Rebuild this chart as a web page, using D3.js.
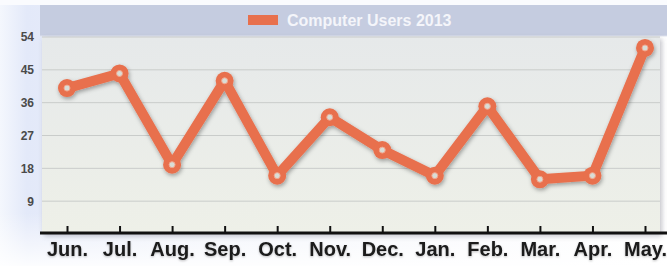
<!DOCTYPE html>
<html><head><meta charset="utf-8">
<script src="https://cdn.jsdelivr.net/npm/d3@7"></script>
<style>html,body{margin:0;padding:0;background:#fff;overflow:hidden}</style>
</head><body>
<script>
const categories = ["Jun.","Jul.","Aug.","Sep.","Oct.","Nov.","Dec.","Jan.","Feb.","Mar.","Apr.","May."];
const users2013 = [40,44,19,42,16,32,23,16,35,15,16,51];
const yTicks = [9,18,27,36,45,54];
const seriesName = "Computer Users 2013";

const W = 667, H = 266;
const svg = d3.select("body").append("svg").attr("width", W).attr("height", H);
const defs = svg.append("defs");

const bg = defs.append("linearGradient").attr("id","bg").attr("x1",0).attr("y1",0).attr("x2",1).attr("y2",0);
bg.append("stop").attr("offset","0%").attr("stop-color","#f4f7fd");
bg.append("stop").attr("offset","4%").attr("stop-color","#e3e9f9");
bg.append("stop").attr("offset","30%").attr("stop-color","#eef1fa");
bg.append("stop").attr("offset","100%").attr("stop-color","#ffffff");
const bgv = defs.append("linearGradient").attr("id","bgv").attr("x1",0).attr("y1",0).attr("x2",0).attr("y2",1);
bgv.append("stop").attr("offset","0%").attr("stop-color","#fff").attr("stop-opacity",0);
bgv.append("stop").attr("offset","80%").attr("stop-color","#fff").attr("stop-opacity",0);
bgv.append("stop").attr("offset","100%").attr("stop-color","#fff").attr("stop-opacity",0.9);

const plotG = defs.append("linearGradient").attr("id","plotbg").attr("x1",0).attr("y1",0).attr("x2",0).attr("y2",1);
plotG.append("stop").attr("offset","0%").attr("stop-color","#e6e9ea");
plotG.append("stop").attr("offset","100%").attr("stop-color","#eef0e8");

const sh = defs.append("filter").attr("id","shadow").attr("x","-10%").attr("y","-10%").attr("width","120%").attr("height","130%");
sh.append("feDropShadow").attr("dx",1).attr("dy",2).attr("stdDeviation",2).attr("flood-color","#000").attr("flood-opacity",0.35);
const bl = defs.append("filter").attr("id","blur");
bl.append("feGaussianBlur").attr("stdDeviation",0.6);
const ts = defs.append("filter").attr("id","tshadow").attr("x","-10%").attr("y","-30%").attr("width","120%").attr("height","160%");
ts.append("feDropShadow").attr("dx",0).attr("dy",1).attr("stdDeviation",1).attr("flood-color","#000").attr("flood-opacity",0.25);
const ps = defs.append("filter").attr("id","pshadow").attr("x","-5%").attr("y","-5%").attr("width","110%").attr("height","110%");
ps.append("feDropShadow").attr("dx",2).attr("dy",2).attr("stdDeviation",2.5).attr("flood-color","#556").attr("flood-opacity",0.35);

svg.append("rect").attr("x",0).attr("y",0).attr("width",W).attr("height",H).attr("fill","url(#bg)");
svg.append("rect").attr("x",0).attr("y",0).attr("width",W).attr("height",H).attr("fill","url(#bgv)");
svg.append("rect").attr("x",0).attr("y",0).attr("width",W).attr("height",5).attr("fill","#fafbfe");

const m = {left:42, right:660, top:37, bottom:234};
const x = d3.scalePoint().domain(categories).range([67, 645]);
const y = d3.scaleLinear().domain([0,54]).range([m.bottom, m.top]);

// legend band
svg.append("rect").attr("x",40).attr("y",5).attr("width",W-40).attr("height",31).attr("fill","#c5cce0");
svg.append("line").attr("x1",40).attr("x2",W).attr("y1",36).attr("y2",36).attr("stroke","#dfe3ee").attr("stroke-width",1);

// plot area
svg.append("rect").attr("x",m.left).attr("y",m.top).attr("width",m.right-m.left).attr("height",m.bottom-m.top)
  .attr("fill","url(#plotbg)").attr("filter","url(#pshadow)");

// gridlines
svg.append("g").selectAll("line").data(yTicks).join("line")
  .attr("x1",m.left).attr("x2",m.right).attr("y1",d=>y(d)).attr("y2",d=>y(d))
  .attr("stroke","#c9ccca").attr("stroke-width",1);

// y axis labels
const yAxis = d3.axisLeft(y).tickValues(yTicks).tickSize(0).tickPadding(6);
const yg = svg.append("g").attr("transform",`translate(${m.left-2},0)`).call(yAxis);
yg.select(".domain").remove();
yg.selectAll("text").attr("font-family","Liberation Sans, Arial, sans-serif").attr("font-weight","bold")
  .attr("font-size",12).attr("fill","#4a4a4a");

// x axis
const xAxis = d3.axisBottom(x).tickSizeInner(-7).tickSizeOuter(0).tickPadding(14);
const xg = svg.append("g").attr("transform",`translate(0,${m.bottom-1})`).call(xAxis);
xg.select(".domain").attr("d",`M40,0H${W}`).attr("stroke","#111").attr("stroke-width",3);
xg.selectAll(".tick line").attr("stroke","#111").attr("stroke-width",2);
xg.selectAll("text").attr("font-family","Liberation Sans, Arial, sans-serif").attr("font-weight","bold")
  .attr("font-size",20).attr("fill","#1a1a1a").attr("filter","url(#tshadow)").attr("dy","0.45em");

// line
const line = d3.line().x((d,i)=>x(categories[i])).y(d=>y(d));
const lg = svg.append("g").attr("filter","url(#shadow)");
lg.append("path").datum(users2013).attr("d",line).attr("fill","none")
  .attr("stroke","#e8704d").attr("stroke-width",10).attr("stroke-linejoin","round").attr("stroke-linecap","round");
lg.selectAll("circle").data(users2013).join("circle")
  .attr("cx",(d,i)=>x(categories[i])).attr("cy",d=>y(d)).attr("r",9)
  .attr("fill","#e8704d");
svg.append("g").selectAll("circle").data(users2013).join("circle")
  .attr("cx",(d,i)=>x(categories[i])).attr("cy",d=>y(d)).attr("r",3)
  .attr("fill","#d9ddd6").attr("stroke","#f3a58c").attr("stroke-width",1);

// legend
const legG = svg.append("g");
legG.append("rect").attr("x",248).attr("y",15).attr("width",30).attr("height",10).attr("fill","#e8704d").attr("filter","url(#blur)");
legG.append("text").attr("x",287).attr("y",26).text(seriesName)
  .attr("font-family","Liberation Sans, Arial, sans-serif").attr("font-weight","bold").attr("font-size",16)
  .attr("fill","#f4f5fa");
</script>
</body></html>
